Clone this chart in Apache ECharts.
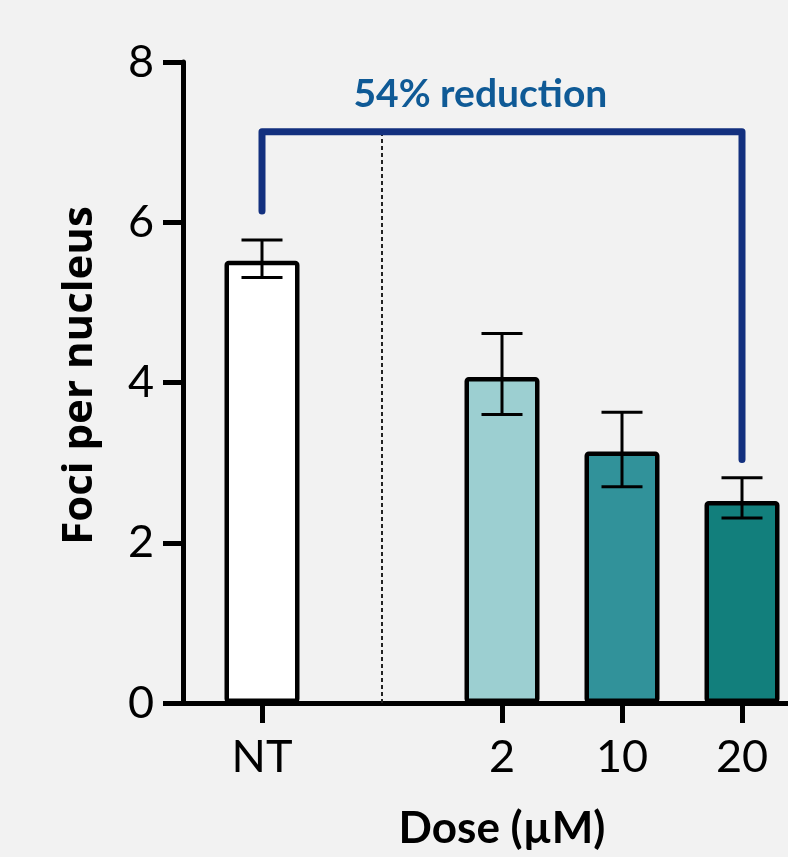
<!DOCTYPE html>
<html>
<head>
<meta charset="utf-8">
<script src="https://cdn.jsdelivr.net/npm/echarts@6/dist/echarts.min.js"></script>
<style>
  html, body { margin: 0; padding: 0; background: #f2f2f2; }
  #chart { width: 788px; height: 857px; }
</style>
</head>
<body>
<div id="chart"></div>
<script>
// category slots along the x axis; the empty one holds the dashed divider
const slots = ['NT', '', '2', '10', '20']
const groups = ['NT', '2', '10', '20']
const means = [5.52, 4.07, 3.14, 2.52]
const errLow = [5.31, 3.60, 2.70, 2.31]
const errHigh = [5.78, 4.61, 3.63, 2.81]
const yTicks = [0, 2, 4, 6, 8]

// bracket: from NT up, across, down to 20 uM
const bracketFrom = 'NT'
const bracketTo = '20'
const bracketY = [6.14, 7.13, 3.04]
const bracketText = '54% reduction'

const barColors = ['#ffffff', '#9ccfd1', '#31929a', '#127f7c']

const pos = g => slots.indexOf(g)
const FONT = 'Lato'

const chart = echarts.init(document.getElementById('chart'))

const barData = groups.map((g, i) => ({
  value: [pos(g), means[i]],
  itemStyle: { color: barColors[i] }
}))
const errData = groups.map((g, i) => [pos(g), errLow[i], errHigh[i]])

const x0 = pos(bracketFrom), x1 = pos(bracketTo)
const bracketData = [[x0, bracketY[0]], [x0, bracketY[1]], [x1, bracketY[1]], [x1, bracketY[2]]]
const divider = pos('')

chart.setOption({
  backgroundColor: '#f2f2f2',
  animation: false,
  grid: { left: 183, top: 62, width: 638, height: 641, outerBoundsMode: 'none', containLabel: false },
  xAxis: {
    type: 'value',
    min: -0.6583,
    max: slots.length - 1 + 0.6583,
    name: 'Dose (µM)',
    nameLocation: 'middle',
    nameGap: 104,
    nameTextStyle: { fontFamily: FONT, fontWeight: 'bold', fontSize: 44, color: '#000' },
    splitLine: { show: false },
    axisLine: { show: true, onZero: false, lineStyle: { color: '#000', width: 5 } },
    axisTick: {
      show: true, length: 20, lineStyle: { color: '#000', width: 5 },
      customValues: groups.map(pos)
    },
    axisLabel: {
      customValues: groups.map(pos),
      formatter: v => slots[Math.round(v)],
      margin: 32,
      fontFamily: FONT, fontSize: 45, color: '#000'
    }
  },
  yAxis: {
    type: 'value',
    min: yTicks[0],
    max: yTicks[yTicks.length - 1],
    interval: 2,
    name: 'Foci per nucleus',
    nameLocation: 'middle',
    nameGap: 82,
    nameTextStyle: {
      fontFamily: 'Open Sans', fontWeight: 'bold', fontSize: 42, color: '#000',
      padding: [0, 0, 0, 14]
    },
    splitLine: { show: false },
    axisLine: { show: true, onZero: false, lineStyle: { color: '#000', width: 5 } },
    axisTick: { show: true, length: 20, lineStyle: { color: '#000', width: 5 } },
    axisLabel: { margin: 29, fontFamily: FONT, fontSize: 45, color: '#000' }
  },
  series: [
    {
      type: 'line',
      data: [[divider, 0], [divider, bracketY[1]]],
      symbol: 'none',
      lineStyle: { color: '#222', width: 2, type: [4, 3] },
      z: 1
    },
    {
      type: 'bar',
      data: barData,
      barWidth: 75,
      itemStyle: { borderColor: '#000', borderWidth: 4.5, borderRadius: 2 },
      z: 2
    },
    {
      type: 'custom',
      data: errData,
      z: 3,
      renderItem: (params, api) => {
        const x = api.value(0)
        const lo = api.coord([x, api.value(1)])
        const hi = api.coord([x, api.value(2)])
        const half = 20.5
        const style = { stroke: '#000', lineWidth: 3 }
        return {
          type: 'group',
          children: [
            { type: 'line', shape: { x1: lo[0], y1: lo[1], x2: hi[0], y2: hi[1] }, style },
            { type: 'line', shape: { x1: hi[0] - half, y1: hi[1], x2: hi[0] + half, y2: hi[1] }, style },
            { type: 'line', shape: { x1: lo[0] - half, y1: lo[1], x2: lo[0] + half, y2: lo[1] }, style }
          ]
        }
      }
    },
    {
      type: 'line',
      data: bracketData,
      symbol: 'none',
      lineStyle: { color: '#13307f', width: 7, cap: 'round', join: 'round' },
      z: 4
    },
    {
      type: 'scatter',
      data: [[(x0 + x1) / 2 - 0.18, 7.59]],
      symbolSize: 0,
      itemStyle: { opacity: 1 },
      label: {
        show: true,
        position: 'inside',
        formatter: bracketText,
        opacity: 1,
        fontFamily: FONT, fontWeight: 'bold', fontSize: 39, color: '#0f5a96'
      },
      z: 5
    }
  ]
})
</script>
</body>
</html>
